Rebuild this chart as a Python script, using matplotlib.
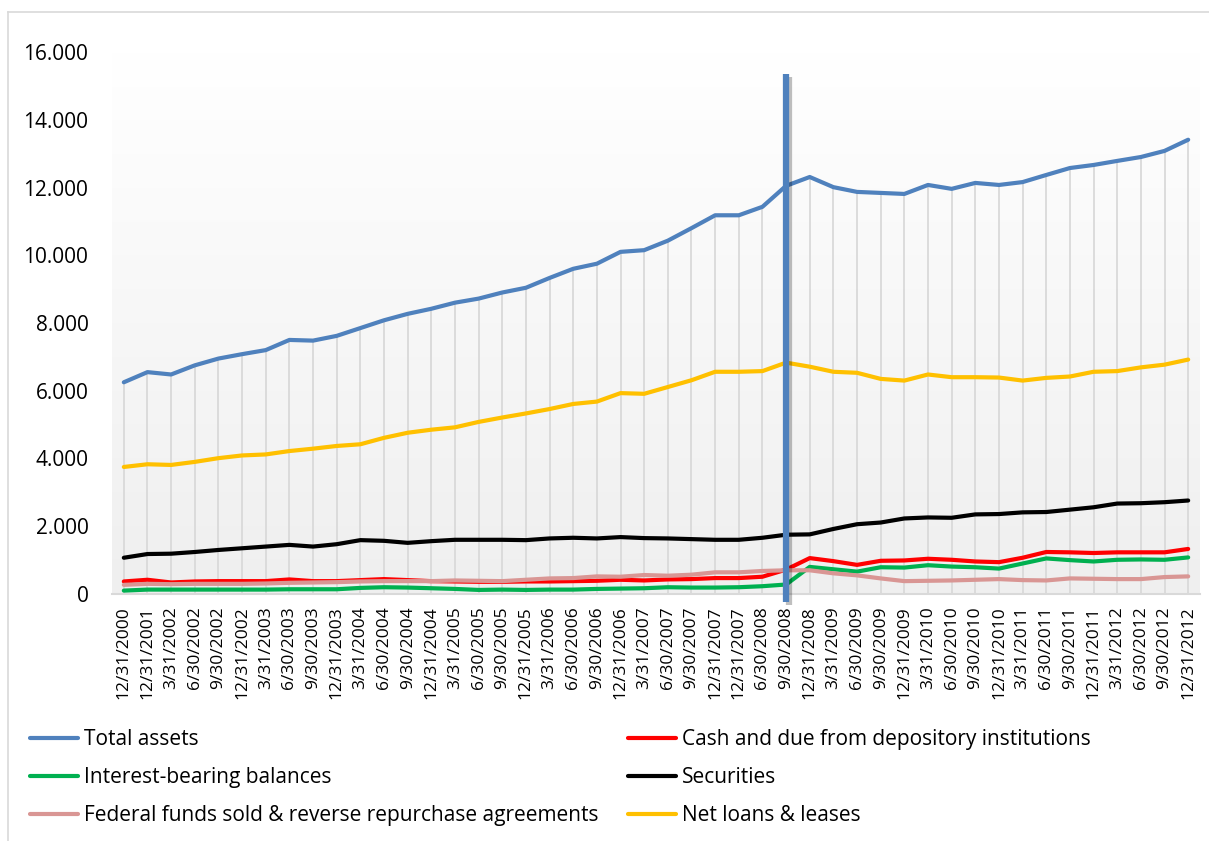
import numpy as np
import matplotlib.pyplot as plt
import matplotlib.patheffects as pe
from matplotlib.ticker import FuncFormatter

dates = ['12/31/2000', '12/31/2001', '3/31/2002', '6/30/2002', '9/30/2002', '12/31/2002',
         '3/31/2003', '6/30/2003', '9/30/2003', '12/31/2003', '3/31/2004', '6/30/2004',
         '9/30/2004', '12/31/2004', '3/31/2005', '6/30/2005', '9/30/2005', '12/31/2005',
         '3/31/2006', '6/30/2006', '9/30/2006', '12/31/2006', '3/31/2007', '6/30/2007',
         '9/30/2007', '12/31/2007', '12/31/2007', '6/30/2008', '9/30/2008', '12/31/2008',
         '3/31/2009', '6/30/2009', '9/30/2009', '12/31/2009', '3/31/2010', '6/30/2010',
         '9/30/2010', '12/31/2010', '3/31/2011', '6/30/2011', '9/30/2011', '12/31/2011',
         '3/31/2012', '6/30/2012', '9/30/2012', '12/31/2012']

total_assets = [6250, 6550, 6480, 6750, 6950, 7080, 7200, 7500, 7480, 7620, 7850, 8080,
                8270, 8420, 8600, 8720, 8900, 9040, 9330, 9600, 9750, 10100, 10150, 10430,
                10800, 11180, 11180, 11430, 12050, 12310, 12010, 11870, 11840, 11810, 12075, 11960,
                12135, 12075, 12160, 12370, 12575, 12665, 12785, 12900, 13080, 13410]
cash = [370, 420, 340, 370, 380, 380, 380, 430, 380, 380, 410, 440,
        410, 380, 370, 360, 360, 370, 370, 380, 390, 420, 400, 430,
        440, 470, 470, 510, 720, 1060, 970, 860, 980, 990, 1040, 1010,
        960, 940, 1070, 1240, 1230, 1210, 1230, 1230, 1230, 1330]
interest_bearing = [100, 130, 130, 130, 130, 130, 130, 140, 140, 140, 180, 200,
                    190, 170, 150, 120, 130, 120, 130, 130, 150, 160, 170, 200,
                    190, 190, 200, 230, 280, 800, 730, 660, 790, 780, 850, 810,
                    790, 750, 900, 1050, 1000, 960, 1010, 1020, 1010, 1080]
securities = [1070, 1180, 1190, 1240, 1300, 1350, 1400, 1450, 1400, 1470, 1590, 1570,
              1510, 1560, 1600, 1600, 1600, 1590, 1640, 1660, 1640, 1680, 1650, 1640,
              1620, 1600, 1600, 1660, 1750, 1760, 1920, 2060, 2110, 2230, 2260, 2250,
              2350, 2360, 2410, 2420, 2490, 2560, 2670, 2680, 2710, 2760]
fed_funds = [270, 300, 290, 300, 300, 300, 310, 330, 340, 350, 370, 380,
             380, 380, 400, 390, 380, 420, 460, 470, 520, 510, 560, 540,
             570, 640, 640, 680, 700, 700, 610, 550, 460, 380, 390, 400,
             420, 440, 410, 400, 460, 450, 440, 440, 500, 520]
net_loans = [3750, 3830, 3810, 3900, 4010, 4090, 4120, 4220, 4290, 4370, 4420, 4610,
             4760, 4850, 4920, 5080, 5210, 5330, 5460, 5610, 5680, 5930, 5910, 6110,
             6310, 6560, 6560, 6580, 6830, 6710, 6560, 6530, 6350, 6300, 6480, 6400,
             6400, 6390, 6300, 6380, 6420, 6560, 6580, 6690, 6770, 6920]

# marker line drawn by hand on the original (at 9/30/2008)
event_index = 28
event_top = 15350

series = [
    ('Total assets', total_assets, '#4f81bd'),
    ('Cash and due from depository institutions', cash, '#ff0000'),
    ('Interest-bearing balances', interest_bearing, '#00b050'),
    ('Securities', securities, '#000000'),
    ('Federal funds sold & reverse repurchase agreements', fed_funds, '#d99694'),
    ('Net loans & leases', net_loans, '#ffc000'),
]

plt.rcParams['font.family'] = ['Open Sans', 'DejaVu Sans']

fig = plt.figure(figsize=(12.09, 8.41), dpi=100)
ax = fig.add_axes([112 / 1209, 1 - 594 / 841, 1088 / 1209, 542 / 841])

x = np.arange(len(dates))
ax.set_xlim(-0.5, len(dates) - 0.5)
ax.set_ylim(0, 16000)

# gradient plot area
grad = np.linspace(1, 0, 256).reshape(-1, 1)
ax.imshow(grad, extent=[-0.5, len(dates) - 0.5, 0, 16000], aspect='auto',
          cmap=plt.matplotlib.colors.LinearSegmentedColormap.from_list('g', ['#efefef', '#ffffff']),
          zorder=0)

# drop lines
ax.vlines(x, 0, np.max([s[1] for s in series], axis=0), color='#d9d9d9', lw=1.3, zorder=1)

lines = {}
for name, vals, col in series:
    lines[name], = ax.plot(x, vals, color=col, lw=3, label=name, zorder=3,
                           solid_capstyle='round', solid_joinstyle='round')

ax.plot([event_index, event_index], [-250, event_top], color='#4f81bd', lw=4.5,
        clip_on=False, zorder=5, solid_capstyle='butt',
        path_effects=[pe.SimpleLineShadow(offset=(2, -2), alpha=0.25), pe.Normal()])

for side in ['left', 'right', 'top']:
    ax.spines[side].set_visible(False)
ax.spines['bottom'].set_color('#d9d9d9')
ax.spines['bottom'].set_linewidth(1.5)
ax.spines['bottom'].set_zorder(2)

ax.set_xticks(x)
ax.set_xticklabels(dates, rotation=90, fontsize=12.5, color='#000000')
ax.tick_params(axis='x', length=0, pad=9)
ax.set_yticks(np.arange(0, 16001, 2000))
ax.yaxis.set_major_formatter(FuncFormatter(lambda v, p: f'{int(v):,}'.replace(',', '.')))
ax.tick_params(axis='y', length=0, labelsize=15, pad=17)

# chart border
fig.add_artist(plt.Line2D([8 / 1209, 8 / 1209], [0, 1 - 12 / 841], color='#d9d9d9', lw=1.2))
fig.add_artist(plt.Line2D([8 / 1209, 1], [1 - 12 / 841, 1 - 12 / 841], color='#d9d9d9', lw=1.2))

left_names = ['Total assets', 'Interest-bearing balances',
              'Federal funds sold & reverse repurchase agreements']
right_names = ['Cash and due from depository institutions', 'Securities', 'Net loans & leases']
leg_kw = dict(loc='upper left', frameon=False, fontsize=15, handlelength=2.3,
              handletextpad=0.3, labelspacing=0.82, borderpad=0, borderaxespad=0)
fig.legend([lines[n] for n in left_names], left_names,
           bbox_to_anchor=(30 / 1209, 1 - 729 / 841), **leg_kw)
fig.legend([lines[n] for n in right_names], right_names,
           bbox_to_anchor=(628 / 1209, 1 - 729 / 841), **leg_kw)

fig.savefig('out.png', dpi=100)
